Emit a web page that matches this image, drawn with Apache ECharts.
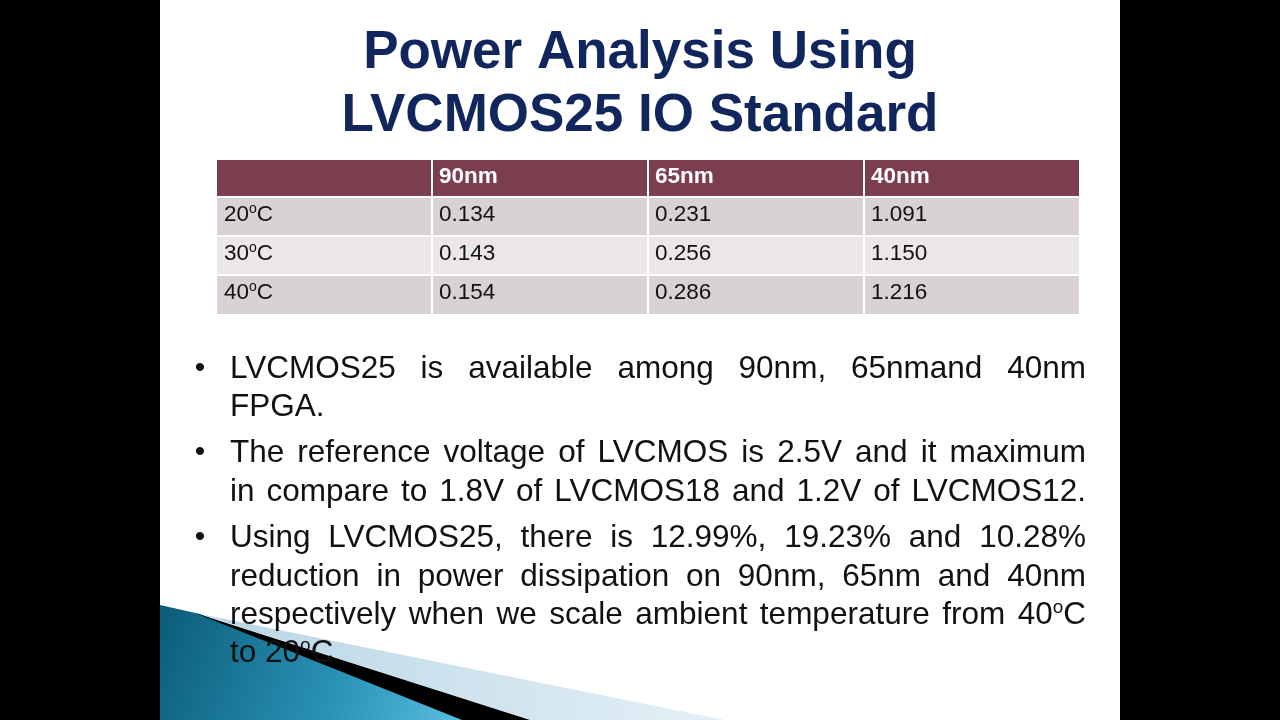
<!DOCTYPE html>
<html><head><meta charset="utf-8">
<script src="https://cdn.jsdelivr.net/npm/echarts@6/dist/echarts.min.js"></script>
<style>html,body{margin:0;padding:0;background:#000}#c{width:1280px;height:720px}</style>
</head><body><div id="c"></div>
<script>
const titleLines = ["Power Analysis Using", "LVCMOS25 IO Standard"];
const columns = ["", "90nm", "65nm", "40nm"];
const rowLabels = ["20^oC", "30^oC", "40^oC"];
const val90 = ["0.134", "0.143", "0.154"];
const val65 = ["0.231", "0.256", "0.286"];
const val40 = ["1.091", "1.150", "1.216"];
const bullets = [
  [["LVCMOS25 is available among 90nm, 65nmand 40nm", true], ["FPGA.", false]],
  [["The reference voltage of LVCMOS is 2.5V and it maximum", true], ["in compare to 1.8V of LVCMOS18 and 1.2V of LVCMOS12.", true]],
  [["Using LVCMOS25, there is 12.99%, 19.23% and 10.28%", true], ["reduction in power dissipation on 90nm, 65nm and 40nm", true],
   ["respectively when we scale ambient temperature from 40^oC", true], ["to 20^oC", false]]
];

const FONT = "'Liberation Sans', Arial, sans-serif";
const ctx = document.createElement('canvas').getContext('2d');
function mw(t, size, bold){ ctx.font = (bold?'bold ':'') + size + "px " + FONT; return ctx.measureText(t).width; }
function richText(str){ return str.split('^o').join('{s|o}'); }
function wordWidth(w, size){
  const parts = w.split('^o'); let s = 0;
  parts.forEach((p,i)=>{ s += mw(p,size); if(i<parts.length-1) s += mw('o', Math.round(size*0.6)); });
  return s;
}
function textEl(x, y, str, size, color, bold){
  const hasSup = str.indexOf('^o')>=0;
  return {type:'text', x:x, y:y, style:{text: hasSup?richText(str):str, fontFamily:FONT, fontSize:size, fontWeight:bold?'bold':'normal', fill:color, verticalAlign:'middle', align:'left',
    rich:{s:{fontSize:Math.round(size*0.6), fontFamily:FONT, fill:color, verticalAlign:'top', padding:[0,0,Math.round(size*0.45),0]}}}};
}

const els = [];
els.push({type:'rect', shape:{x:160,y:0,width:960,height:720}, style:{fill:'#fff'}});
els.push({type:'polygon', shape:{points:[[200,614],[725,720],[530,720]]}, style:{fill:new echarts.graphic.LinearGradient(0,0,1,0,[{offset:0,color:'#b8d6e6'},{offset:1,color:'#e4f0f6'}])}});
els.push({type:'polygon', shape:{points:[[160,605],[200,614],[468,720],[160,720]]}, style:{fill:new echarts.graphic.LinearGradient(0,0,1,1,[{offset:0,color:'#0b5c78'},{offset:0.6,color:'#2a93b8'},{offset:1,color:'#5bbfe0'}])}});
els.push({type:'polygon', shape:{points:[[195,613],[530,720],[462,720]]}, style:{fill:'#000'}});

titleLines.forEach((t,i)=>els.push({type:'text', x:640, y:53+i*63, style:{text:t, fontFamily:FONT, fontSize:53, fontWeight:'bold', fill:'#10265c', align:'center', verticalAlign:'middle'}}));

const colX = [217, 432, 648, 864, 1079];
const rowY = [160, 197, 236, 275, 314];
const rowsData = rowLabels.map((l,i)=>[l, val90[i], val65[i], val40[i]]);
for(let r=0;r<4;r++){
  for(let c=0;c<4;c++){
    const fill = r===0 ? '#7b3e4f' : (r%2===1 ? '#d8d2d4' : '#ebe7e8');
    els.push({type:'rect', shape:{x:colX[c]+(c?1:0), y:rowY[r]+(r?1:0), width:colX[c+1]-colX[c]-(c?1:0), height:rowY[r+1]-rowY[r]-(r?1:0)}, style:{fill:fill}});
    const txt = r===0 ? columns[c] : rowsData[r-1][c];
    if(txt) els.push(textEl(colX[c]+7, (rowY[r]+rowY[r+1])/2 - 2, txt, 22.5, r===0?'#fff':'#111', r===0));
  }
}
for(let r=1;r<4;r++) els.push({type:'rect', shape:{x:217,y:rowY[r]-1,width:862,height:2}, style:{fill:'#fff'}});
for(let c=1;c<4;c++) els.push({type:'rect', shape:{x:colX[c]-1,y:160,width:2,height:154}, style:{fill:'#fff'}});

const lineYs = [[369,407],[453,492],[538,577,615,653]];
const L = 230, R = 1086, FS = 31.5;
bullets.forEach((p,pi)=>{
  els.push({type:'text', x:200, y:lineYs[pi][0], style:{text:'•', fontFamily:FONT, fontSize:30, fill:'#111', align:'center', verticalAlign:'middle'}});
  p.forEach(([line, just], li)=>{
    const y = lineYs[pi][li];
    if(!just){ els.push(textEl(L, y, line, FS, '#111')); return; }
    const words = line.split(' ');
    const widths = words.map(w=>wordWidth(w,FS));
    const total = widths.reduce((a,b)=>a+b,0);
    const gap = (R-L-total)/(words.length-1);
    let x = L;
    words.forEach((w,wi)=>{ els.push(textEl(x, y, w, FS, '#111')); x += widths[wi]+gap; });
  });
});

const chart = echarts.init(document.getElementById('c'));
chart.setOption({backgroundColor:'#000', graphic:{elements:els}});
</script></body></html>
